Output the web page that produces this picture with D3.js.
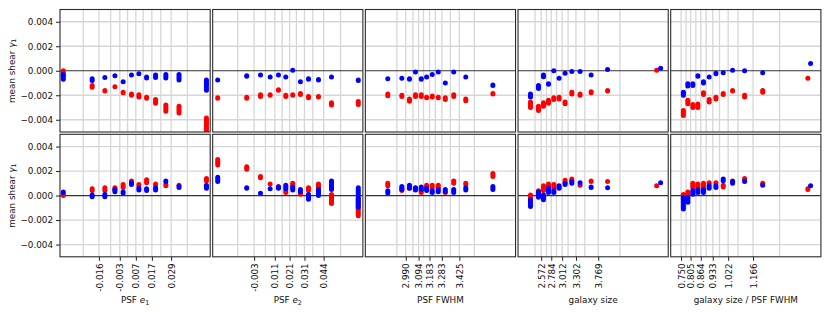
<!DOCTYPE html>
<html>
<head>
<meta charset="utf-8">
<script src="https://cdn.jsdelivr.net/npm/d3@7"></script>
<style>
  body { margin: 0; background: #fff; }
  text { font-family: "DejaVu Sans", sans-serif; }
</style>
</head>
<body>
<svg id="chart" width="830" height="312"></svg>
<script>
// shear values are in units of 1e-3, each entry is [low, high] of the point stack

// PSF e1
const e1Edges = [-0.0258, -0.016, -0.0087, -0.003, 0.00185, 0.007, 0.01155, 0.017, 0.02256, 0.029, 0.03916];
const e1Ticks = ["-0.016", "-0.003", "0.007", "0.017", "0.029"];
const e1X = [-0.0382, -0.0202, -0.0123, -0.00605, -0.0009, 0.0043, 0.0089, 0.0137, 0.0193, 0.0257, 0.0339, 0.0510];
const e1TopBlue = [[-0.9,-0.1],[-1.0,-0.45],[-0.75,-0.35],[-0.5,-0.2],[-0.95,-0.7],[-0.45,-0.15],[-0.35,-0.05],[-0.8,-0.3],[-0.75,-0.15],[-0.8,-0.1],[-0.95,-0.1],[-1.8,-0.55]];
const e1TopRed = [[-0.6,0.2],[-1.55,-1.0],[-1.85,-1.4],[-1.45,-1.1],[-2.0,-1.55],[-2.2,-1.7],[-2.35,-1.75],[-2.45,-1.95],[-2.85,-2.15],[-3.5,-2.6],[-3.65,-2.7],[-5.3,-3.65]];
const e1BotBlue = [[0.05,0.5],[-0.3,0.25],[-0.3,0.3],[0.1,0.7],[0.0,0.5],[0.7,1.25],[0.25,0.8],[0.2,0.75],[0.25,0.85],[0.95,1.4],[0.45,0.95],[0.4,1.05]];
const e1BotRed = [[-0.2,0.3],[0.2,0.75],[0.2,0.85],[0.3,0.85],[0.45,1.1],[0.85,1.4],[0.6,1.1],[0.85,1.5],[0.7,1.15],[0.6,1.1],[0.7,1.05],[1.0,1.6]];

// PSF e2
const e2Edges = [-0.0141, -0.003, 0.00466, 0.011, 0.01596, 0.021, 0.0256, 0.031, 0.03666, 0.044, 0.0554];
const e2Ticks = ["-0.003", "0.011", "0.021", "0.031", "0.044"];
const e2X = [-0.0276, -0.0080, 0.0013, 0.00784, 0.01345, 0.0184, 0.0231, 0.0283, 0.03375, 0.0405, 0.0493, 0.0674];
const e2TopBlue = [[-0.8,-0.55],[-0.65,-0.2],[-0.55,-0.15],[-0.65,-0.3],[-0.55,-0.15],[-0.7,-0.3],[-0.1,0.25],[-1.1,-0.7],[-0.9,-0.45],[-0.95,-0.5],[-0.7,-0.3],[-1.0,-0.55]];
const e2TopRed = [[-2.45,-2.0],[-2.45,-1.95],[-2.3,-1.75],[-2.2,-1.75],[-1.8,-1.35],[-2.3,-1.8],[-2.2,-1.75],[-2.15,-1.65],[-2.4,-1.9],[-2.35,-1.9],[-3.0,-2.4],[-2.95,-2.3]];
const e2BotBlue = [[0.95,1.7],[0.4,0.85],[0.05,0.4],[0.35,0.75],[0.4,0.9],[0.35,1.05],[0.25,0.9],[0.1,0.7],[-0.5,0.3],[-0.2,0.7],[0.3,1.4],[-1.15,0.85]];
const e2BotRed = [[2.3,3.15],[1.95,2.55],[1.25,1.75],[0.75,1.15],[0.45,0.95],[0.05,0.6],[0.6,1.2],[-0.1,0.45],[0.2,0.85],[0.2,1.15],[-0.85,0.3],[-1.85,-0.1]];

// PSF FWHM
const fwhmEdges = [2.918, 2.990, 3.048, 3.094, 3.134, 3.183, 3.230, 3.283, 3.352, 3.425, 3.547];
const fwhmTicks = ["2.990", "3.094", "3.183", "3.283", "3.425"];
const fwhmX = [2.844, 2.958, 3.020, 3.069, 3.116, 3.159, 3.205, 3.254, 3.311, 3.379, 3.477, 3.697];
const fwhmTopBlue = [[-0.85,-0.45],[-0.8,-0.4],[-0.9,-0.45],[-0.3,0.1],[-0.9,-0.45],[-0.7,-0.3],[-0.5,-0.1],[-0.3,0.1],[-1.2,-0.8],[-0.3,0.1],[-0.7,-0.3],[-1.4,-0.95]];
const fwhmTopRed = [[-2.25,-1.7],[-2.3,-1.8],[-2.7,-2.1],[-2.3,-1.75],[-2.3,-1.75],[-2.4,-1.95],[-2.35,-1.85],[-2.4,-1.95],[-2.55,-2.0],[-2.3,-1.75],[-2.65,-2.1],[-2.1,-1.65]];
const fwhmBotBlue = [[0.0,0.6],[0.3,0.95],[0.4,1.05],[0.25,0.85],[0.3,0.9],[0.2,0.8],[0.05,0.6],[0.1,0.7],[0.1,0.7],[0.05,0.7],[0.25,0.85],[0.3,0.95]];
const fwhmBotRed = [[0.6,1.2],[0.2,0.8],[0.4,0.85],[0.3,0.8],[0.05,0.7],[0.45,1.05],[0.45,1.05],[0.45,1.05],[0.05,0.45],[0.8,1.4],[0.7,1.2],[1.35,2.0]];

// galaxy size
const sizeEdges = [2.444, 2.572, 2.684, 2.784, 2.894, 3.012, 3.137, 3.302, 3.488, 3.769, 4.223];
const sizeTicks = ["2.572", "2.784", "3.012", "3.302", "3.769"];
const sizeXBlue = [2.348, 2.516, 2.621, 2.726, 2.837, 2.948, 3.074, 3.215, 3.389, 3.620, 3.965, 5.078];
const sizeXRed = [2.348, 2.516, 2.621, 2.726, 2.837, 2.948, 3.074, 3.215, 3.389, 3.620, 3.965, 4.994];
const sizeTopBlue = [[-2.35,-1.7],[-1.65,-1.0],[-0.7,-0.15],[-1.3,-0.85],[-0.2,0.2],[-0.8,-0.4],[-0.4,0.0],[-0.2,0.15],[-0.2,0.15],[-0.55,-0.15],[0.0,0.3],[0.0,0.4]];
const sizeTopRed = [[-3.2,-2.35],[-3.45,-2.7],[-3.1,-2.4],[-2.85,-2.2],[-2.55,-2.0],[-2.5,-1.95],[-2.9,-2.35],[-2.1,-1.55],[-2.2,-1.7],[-2.0,-1.5],[-1.85,-1.4],[-0.1,0.25]];
const sizeBotBlue = [[-1.1,-0.15],[-0.35,0.5],[-0.55,0.25],[0.05,0.8],[0.05,0.6],[0.4,1.0],[0.7,1.2],[0.8,1.35],[0.85,1.25],[0.45,0.9],[0.5,0.85],[0.85,1.25]];
const sizeBotRed = [[-0.55,0.25],[-0.1,0.6],[0.2,1.0],[0.45,1.15],[0.45,1.1],[0.45,0.85],[0.85,1.45],[1.0,1.55],[0.65,1.05],[0.95,1.4],[0.95,1.35],[0.65,1.0]];

// galaxy size / PSF FWHM
const ratioEdges = [0.750, 0.779, 0.805, 0.8353, 0.864, 0.895, 0.933, 0.972, 1.022, 1.0789, 1.166, 1.3193];
const ratioTicks = ["0.750", "0.805", "0.864", "0.933", "1.022", "1.166"];
const ratioXBlue = [0.7633, 0.7889, 0.8179, 0.8469, 0.8794, 0.9124, 0.9513, 0.9936, 1.0476, 1.1172, 1.2216, 1.4983];
const ratioXRed = [0.7633, 0.7889, 0.8179, 0.8469, 0.8794, 0.9124, 0.9513, 0.9936, 1.0476, 1.1172, 1.2216, 1.4826];
const ratioTopBlue = [[-2.2,-1.55],[-1.45,-0.85],[-1.4,-0.85],[-0.65,-0.2],[-1.2,-0.7],[-0.7,-0.3],[-0.45,0.0],[-0.35,0.05],[-0.15,0.25],[-0.15,0.2],[-0.3,0.05],[0.45,0.8]];
const ratioTopRed = [[-3.85,-3.05],[-2.9,-2.2],[-3.2,-2.55],[-3.2,-2.5],[-2.15,-1.6],[-2.75,-2.15],[-2.5,-1.95],[-2.15,-1.65],[-1.85,-1.4],[-2.35,-1.8],[-1.95,-1.4],[-0.75,-0.4]];
const ratioBotBlue = [[-1.3,0.05],[-0.75,0.05],[-0.1,0.6],[0.05,0.7],[0.05,0.7],[0.4,1.0],[0.45,1.0],[1.0,1.55],[0.8,1.35],[0.95,1.4],[0.65,1.05],[0.6,1.0]];
const ratioBotRed = [[-0.5,0.3],[-0.1,0.5],[0.45,1.2],[0.45,1.15],[0.5,1.2],[0.8,1.25],[0.8,1.25],[0.5,1.05],[0.95,1.4],[1.15,1.6],[0.8,1.2],[0.3,0.75]];

const yTicks = [-4, -2, 0, 2, 4];

// panels table built from the arrays above
const panels = [
    { label: ['PSF ', 'e', '1'], edges: e1Edges, tickStart: 1, ticks: e1Ticks, domain: [-0.04025, 0.05334],
      xBlue: e1X, xRed: e1X, rows: [[e1TopBlue, e1TopRed], [e1BotBlue, e1BotRed]] },
    { label: ['PSF ', 'e', '2'], edges: e2Edges, tickStart: 1, ticks: e2Ticks, domain: [-0.0310, 0.0705],
      xBlue: e2X, xRed: e2X, rows: [[e2TopBlue, e2TopRed], [e2BotBlue, e2BotRed]] },
    { label: ['PSF FWHM'], edges: fwhmEdges, tickStart: 1, ticks: fwhmTicks, domain: [2.662, 3.881],
      xBlue: fwhmX, xRed: fwhmX, rows: [[fwhmTopBlue, fwhmTopRed], [fwhmBotBlue, fwhmBotRed]] },
    { label: ['galaxy size'], edges: sizeEdges, tickStart: 1, ticks: sizeTicks, domain: [2.087, 5.237],
      xBlue: sizeXBlue, xRed: sizeXRed, rows: [[sizeTopBlue, sizeTopRed], [sizeBotBlue, sizeBotRed]] },
    { label: ['galaxy size / PSF FWHM'], edges: ratioEdges, tickStart: 0, ticks: ratioTicks, domain: [0.690, 1.558],
      xBlue: ratioXBlue, xRed: ratioXRed, rows: [[ratioTopBlue, ratioTopRed], [ratioBotBlue, ratioBotRed]] }
];

const svg = d3.select('#chart');
const left0 = 60, step = 152.675, pw = 150.2;
const rowTop = [9.5, 134.3], ph = 122.5;
const fontSize = '8.8px';
const dotW = 5;

panels.forEach((p, i) => {
    const x0 = left0 + i * step;
    const x = d3.scaleLinear().domain(p.domain).range([x0, x0 + pw]);
    const tickVals = p.ticks.map((_t, k) => p.edges[p.tickStart + 2 * k]);

    p.rows.forEach((rowData, r) => {
        const top = rowTop[r];
        const y = d3.scaleLinear().domain([-5, 5]).range([top + ph, top]);
        const clipId = `clip-${i}-${r}`;
        svg.append('clipPath').attr('id', clipId)
            .append('rect').attr('x', x0).attr('y', top).attr('width', pw).attr('height', ph);

        const g = svg.append('g').attr('clip-path', `url(#${clipId})`);

        // grid
        g.selectAll('.vg').data(p.edges).enter().append('line')
            .attr('x1', d => x(d)).attr('x2', d => x(d))
            .attr('y1', top).attr('y2', top + ph)
            .attr('stroke', '#d6d6d6').attr('stroke-width', 1.3);
        g.selectAll('.hg').data(yTicks.filter(d => d !== 0)).enter().append('line')
            .attr('x1', x0).attr('x2', x0 + pw)
            .attr('y1', d => y(d)).attr('y2', d => y(d))
            .attr('stroke', '#d6d6d6').attr('stroke-width', 1.3);
        g.append('line')
            .attr('x1', x0).attr('x2', x0 + pw)
            .attr('y1', y(0)).attr('y2', y(0))
            .attr('stroke', '#333').attr('stroke-width', 1.2);

        // point stacks: red then blue for each bin
        const [blue, red] = rowData;
        blue.forEach((b, k) => {
            [[red[k], p.xRed[k], '#ff0000'], [b, p.xBlue[k], '#0000ff']].forEach(([rng, xv, col]) => {
                const yTopPx = y(rng[1]);
                const h = Math.max(dotW, y(rng[0]) - yTopPx);
                g.append('rect')
                    .attr('x', x(xv) - dotW / 2).attr('width', dotW)
                    .attr('y', yTopPx).attr('height', h)
                    .attr('rx', dotW / 2).attr('ry', dotW / 2)
                    .attr('fill', col);
            });
        });

        // frame
        svg.append('rect').attr('x', x0).attr('y', top).attr('width', pw).attr('height', ph)
            .attr('fill', 'none').attr('stroke', '#2b2b2b').attr('stroke-width', 1.1);

        // y axis on first column only
        if (i === 0) {
            const ya = svg.append('g').attr('transform', `translate(${x0},0)`)
                .call(d3.axisLeft(y).tickValues(yTicks)
                    .tickFormat(d => d3.format('.3f')(d / 1000))
                    .tickSize(4).tickPadding(3));
            ya.select('.domain').remove();
            ya.selectAll('line').attr('stroke', '#222');
            ya.selectAll('text').attr('font-size', fontSize).attr('fill', '#111')
                .style('font-family', '"DejaVu Sans", sans-serif');

            const yl = svg.append('text')
                .attr('transform', `translate(14.5,${top + ph / 2}) rotate(-90)`)
                .attr('text-anchor', 'middle')
                .attr('font-size', fontSize).attr('fill', '#111');
            yl.append('tspan').text('mean shear ');
            yl.append('tspan').attr('font-style', 'italic').text('γ');
            yl.append('tspan').attr('font-size', '6.4px').attr('dy', '1.8').text('1');
        }

        // x axis below bottom row
        if (r === 1) {
            const xa = svg.append('g').attr('transform', `translate(0,${top + ph})`)
                .call(d3.axisBottom(x).tickValues(tickVals)
                    .tickFormat((_d, k) => p.ticks[k]).tickSize(4));
            xa.select('.domain').remove();
            xa.selectAll('line').attr('stroke', '#222');
            xa.selectAll('text')
                .attr('font-size', fontSize).attr('fill', '#111')
                .style('font-family', '"DejaVu Sans", sans-serif')
                .attr('transform', 'rotate(-90)')
                .attr('text-anchor', 'end')
                .attr('x', -6.5).attr('y', 0).attr('dy', '0.35em');

            const xl = svg.append('text')
                .attr('x', x0 + pw / 2).attr('y', 303)
                .attr('text-anchor', 'middle')
                .attr('font-size', fontSize).attr('fill', '#111');
            xl.append('tspan').text(p.label[0]);
            if (p.label.length > 1) {
                xl.append('tspan').attr('font-style', 'italic').text(p.label[1]);
                xl.append('tspan').attr('font-size', '6.4px').attr('dy', '1.8').text(p.label[2]);
            }
        }
    });
});
</script>
</body>
</html>
